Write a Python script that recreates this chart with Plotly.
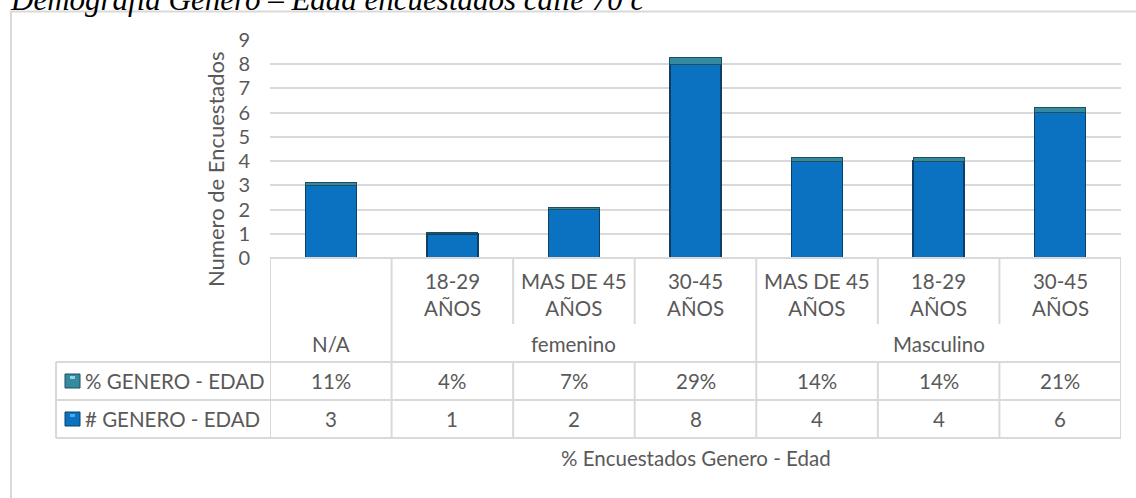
import plotly.graph_objects as go

# ---------------- data ----------------
groups = ["N/A", "femenino", "femenino", "femenino", "Masculino", "Masculino", "Masculino"]
age_labels = ["", "18-29 AÑOS", "MAS DE 45 AÑOS", "30-45 AÑOS", "MAS DE 45 AÑOS", "18-29 AÑOS", "30-45 AÑOS"]
count_values = [3, 1, 2, 8, 4, 4, 6]
pct_values = [0.11, 0.04, 0.07, 0.29, 0.14, 0.14, 0.21]
series_names = ["% GENERO - EDAD", "# GENERO - EDAD"]
y_ticks = list(range(10))
chart_title = "Demografía Género – Edad encuestados calle 70 c"
x_title = "% Encuestados Genero - Edad"
y_title = "Numero de Encuestados"

# ---------------- style ----------------
W, H = 1136, 498
L, R, T, B = 270, 15, 40, 240
FONT = "Lato"
TXT = "#595959"
GRID = "#D9D9D9"
BLUE = "#0B72C2"
BLUE_EDGE = "#0E3F66"
TEAL = "#358A9F"
TEAL_EDGE = "#1D4F5C"
FS = 20.5

PW = W - L - R
PH = H - T - B


def px_x(px):
    return (px - L) / PW


def px_y(py):
    return (H - B - py) / PH


xs = list(range(len(count_values)))

fig = go.Figure()
fig.add_trace(go.Bar(
    x=xs, y=count_values, name=series_names[1], width=0.42,
    marker=dict(color=BLUE, line=dict(color=BLUE_EDGE, width=1.5)),
))
fig.add_trace(go.Bar(
    x=xs, y=pct_values, name=series_names[0], width=0.42,
    marker=dict(color=TEAL, line=dict(color=TEAL_EDGE, width=1)),
))

shapes = []
ann = []


def hline(y_px, x0_px, x1_px):
    shapes.append(dict(type="line", xref="paper", yref="paper",
                       x0=px_x(x0_px), x1=px_x(x1_px), y0=px_y(y_px), y1=px_y(y_px),
                       line=dict(color=GRID, width=2)))


def vline_data(xv, y0_px, y1_px):
    shapes.append(dict(type="line", xref="x", yref="paper",
                       x0=xv, x1=xv, y0=px_y(y0_px), y1=px_y(y1_px),
                       line=dict(color=GRID, width=2)))


# outer chart frame
shapes.append(dict(type="rect", xref="paper", yref="paper",
                   x0=px_x(11), x1=px_x(1150), y0=px_y(11.5), y1=px_y(520),
                   line=dict(color=GRID, width=2), fillcolor="rgba(0,0,0,0)", layer="below"))

# table horizontal lines
hline(258, L, W - R)
for yy in (362, 400, 438):
    hline(yy, 56, W - R)
# legend column left border
shapes.append(dict(type="line", xref="paper", yref="paper",
                   x0=px_x(56), x1=px_x(56), y0=px_y(362), y1=px_y(438),
                   line=dict(color=GRID, width=2)))

n = len(xs)
# vertical lines
for i in range(n + 1):
    xv = i - 0.5
    left_g = groups[i - 1] if i > 0 else None
    right_g = groups[i] if i < n else None
    if left_g != right_g:
        vline_data(xv, 258, 438)
    else:
        vline_data(xv, 258, 324)
        vline_data(xv, 362, 438)

# sub-category labels
for i, lab in enumerate(age_labels):
    if lab:
        head, tail = lab.rsplit(" ", 1)
        ann.append(dict(x=i, y=px_y(294), xref="x", yref="paper", text=head + "<br>" + tail,
                        showarrow=False, font=dict(family=FONT, size=FS, color=TXT),
                        xanchor="center", yanchor="middle"))

# group labels
seen = []
for g in groups:
    if g not in seen:
        seen.append(g)
for g in seen:
    idx = [i for i, gg in enumerate(groups) if gg == g]
    ann.append(dict(x=sum(idx) / len(idx), y=px_y(344), xref="x", yref="paper", text=g,
                    showarrow=False, font=dict(family=FONT, size=FS, color=TXT),
                    xanchor="center", yanchor="middle"))

# data rows
for i in xs:
    ann.append(dict(x=i, y=px_y(381), xref="x", yref="paper", text=f"{round(pct_values[i] * 100)}%",
                    showarrow=False, font=dict(family=FONT, size=FS, color=TXT),
                    xanchor="center", yanchor="middle"))
    ann.append(dict(x=i, y=px_y(419), xref="x", yref="paper", text=str(count_values[i]),
                    showarrow=False, font=dict(family=FONT, size=FS, color=TXT),
                    xanchor="center", yanchor="middle"))

# legend keys in table
for name, yc, col, edge, hi in ((series_names[0], 381, TEAL, TEAL_EDGE, "#8FD3E3"),
                                (series_names[1], 419, BLUE, BLUE_EDGE, "#4DA8EA")):
    shapes.append(dict(type="rect", xref="paper", yref="paper",
                       x0=px_x(65), x1=px_x(80), y0=px_y(yc - 7), y1=px_y(yc + 7),
                       fillcolor=col, line=dict(color=edge, width=1)))
    shapes.append(dict(type="rect", xref="paper", yref="paper",
                       x0=px_x(70), x1=px_x(75), y0=px_y(yc - 5), y1=px_y(yc - 2),
                       fillcolor=hi, line=dict(width=0)))
    ann.append(dict(x=px_x(83), y=px_y(yc), xref="paper", yref="paper", text=name,
                    showarrow=False, font=dict(family=FONT, size=FS, color=TXT),
                    xanchor="left", yanchor="middle"))

# axis titles
ann.append(dict(x=px_x(696), y=px_y(458), xref="paper", yref="paper", text=x_title,
                showarrow=False, font=dict(family=FONT, size=FS, color=TXT),
                xanchor="center", yanchor="middle"))
ann.append(dict(x=px_x(215), y=px_y(169), xref="paper", yref="paper", text=y_title,
                showarrow=False, textangle=-90, font=dict(family=FONT, size=22, color=TXT),
                xanchor="center", yanchor="middle"))

# chart title (partly cut by the top edge, as in the source)
ann.append(dict(x=px_x(8), y=px_y(19), xref="paper", yref="paper", text="<i>" + chart_title + "</i>",
                showarrow=False, font=dict(family="Liberation Serif", size=31, color="#000000"),
                xanchor="left", yanchor="bottom"))

fig.update_layout(
    width=W, height=H,
    margin=dict(l=L, r=R, t=T, b=B),
    barmode="stack",
    showlegend=False,
    paper_bgcolor="white",
    plot_bgcolor="white",
    shapes=shapes,
    annotations=ann,
    font=dict(family=FONT, color=TXT),
    xaxis=dict(range=[-0.5, n - 0.5], showticklabels=False, showgrid=False,
               zeroline=False, showline=False, fixedrange=True),
    yaxis=dict(range=[0, 9], tickvals=y_ticks, showgrid=True, gridcolor=GRID, gridwidth=1.5,
               zeroline=False, showline=False, ticklabelstandoff=19,
               tickfont=dict(family=FONT, size=20, color=TXT), fixedrange=True),
)

fig.write_html("out.html", config={"displayModeBar": False},
               post_script="document.body.style.margin='0px';document.body.style.overflow='hidden';")
